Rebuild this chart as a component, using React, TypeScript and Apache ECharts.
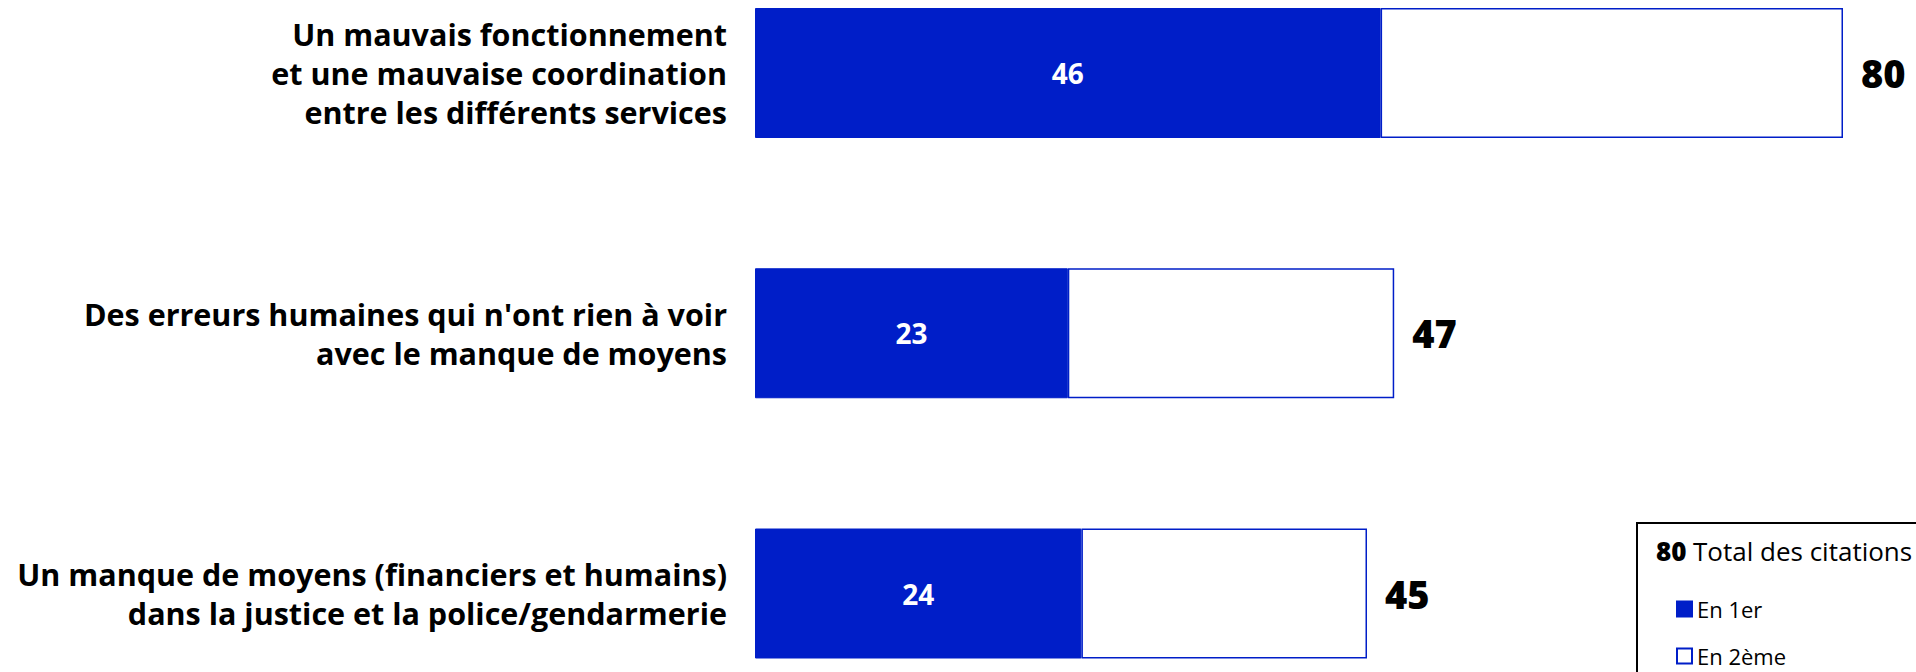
import React, { useEffect, useRef } from "react";
import * as echarts from "echarts";

const categories = [
  "Un mauvais fonctionnement\net une mauvaise coordination\nentre les différents services",
  "Des erreurs humaines qui n'ont rien à voir\navec le manque de moyens",
  "Un manque de moyens (financiers et humains)\ndans la justice et la police/gendarmerie",
];
const firstValues = [46, 23, 24];
const secondValues = [34, 24, 21];
const totals = [80, 47, 45];
const seriesNames = ["En 1er", "En 2ème"];
const legendTotalValue = "80";
const legendTotalText = "Total des citations";

const BLUE = "#001EC8";
const FONT = "'Open Sans', 'Noto Sans', sans-serif";

export default function App() {
  const ref = useRef<HTMLDivElement>(null);
  useEffect(() => {
    if (!ref.current) return;
    const chart = echarts.init(ref.current, null, { renderer: "svg" });
    chart.setOption({
      animation: false,
      backgroundColor: "#ffffff",
      grid: { left: 755, right: 73, top: 73, bottom: 78.5, containLabel: false },
      xAxis: {
        type: "value",
        min: 0,
        max: 80,
        show: false,
      },
      yAxis: {
        type: "category",
        data: categories,
        inverse: true,
        boundaryGap: false,
        axisLine: { show: false },
        axisTick: { show: false },
        splitLine: { show: false },
        axisLabel: {
          margin: 28,
          fontFamily: FONT,
          fontWeight: "bold",
          fontSize: 30.5,
          lineHeight: 39,
          color: "#000",
          align: "right",
        },
      },
      legend: {
        orient: "vertical",
        left: 1671,
        top: 593,
        itemWidth: 15,
        itemHeight: 15,
        itemGap: 25,
        textStyle: { fontFamily: FONT, fontSize: 22, lineHeight: 22, color: "#000" },
        data: [
          { name: seriesNames[0], icon: "rect" },
          {
            name: seriesNames[1],
            icon: "rect",
            itemStyle: { color: "#ffffff", borderColor: BLUE, borderWidth: 2 },
          },
        ],
      },
      graphic: [
        {
          type: "rect",
          shape: { x: 1637, y: 523, width: 400, height: 200 },
          style: { fill: "none", stroke: "#000", lineWidth: 2 },
        },
        {
          type: "text",
          x: 1656,
          y: 551,
          style: {
            text: legendTotalValue,
            font: `800 26px ${FONT}`,
            fill: "#000",
            verticalAlign: "middle",
          },
        },
        {
          type: "text",
          x: 1693,
          y: 551,
          style: {
            text: legendTotalText,
            font: `26px ${FONT}`,
            fill: "#000",
            verticalAlign: "middle",
          },
        },
      ],
      series: [
        {
          name: seriesNames[0],
          type: "bar",
          stack: "total",
          barWidth: 130,
          clip: false,
          data: firstValues,
          itemStyle: { color: BLUE, borderColor: BLUE, borderWidth: 1 },
          label: {
            show: true,
            position: "inside",
            color: "#fff",
            fontFamily: FONT,
            fontWeight: "bold",
            fontSize: 28,
          },
        },
        {
          name: seriesNames[1],
          type: "bar",
          stack: "total",
          barWidth: 130,
          clip: false,
          data: secondValues,
          itemStyle: { color: "#ffffff", borderColor: BLUE, borderWidth: 1.5 },
          label: {
            show: true,
            position: "right",
            distance: 18,
            color: "#000",
            fontFamily: FONT,
            fontWeight: 800,
            fontSize: 38,
            formatter: (p: any) => String(totals[p.dataIndex]),
          },
        },
      ],
    });
    return () => chart.dispose();
  }, []);
  return (
    <div
      ref={ref}
      style={{ position: "absolute", left: 0, top: 0, width: 1916, height: 672 }}
    />
  );
}
